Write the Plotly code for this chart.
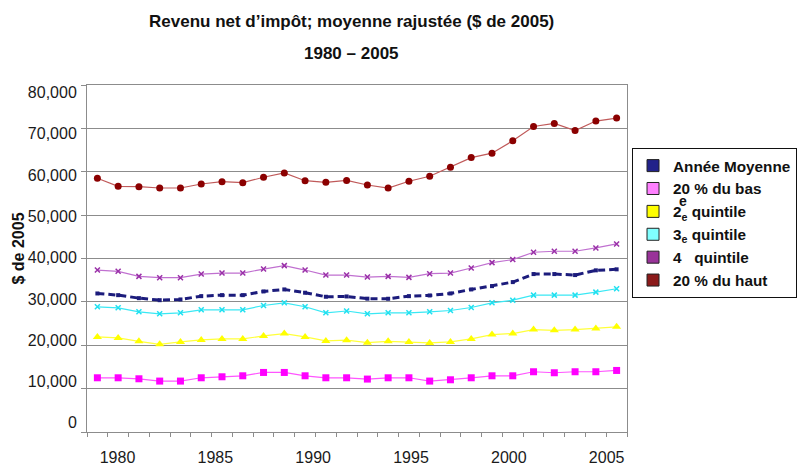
import plotly.graph_objects as go

years = list(range(1980, 2006))

moyenne = [31940, 31550, 30860, 30390, 30560, 31320, 31550, 31550, 32410, 32870, 32110, 31180, 31250,
           30740, 30720, 31320, 31480, 31940, 32870, 33630, 34560, 36410, 36410, 36180, 37270, 37500]
bas = [12500, 12500, 12270, 11740, 11740, 12500, 12730, 12960, 13730, 13730, 12960, 12500, 12500,
       12200, 12500, 12500, 11740, 12040, 12500, 12960, 12960, 13890, 13660, 13890, 13890, 14190]
q2 = [21920, 21690, 20900, 20210, 20760, 21230, 21460, 21460, 22150, 22690, 21920, 21000, 21180,
      20600, 20900, 20760, 20530, 20760, 21460, 22450, 22690, 23610, 23450, 23610, 23840, 24240]
q3 = [28870, 28630, 27710, 27250, 27480, 28170, 28170, 28170, 29170, 29790, 28870, 27480, 27900,
      27250, 27480, 27480, 27710, 28010, 28700, 29790, 30390, 31550, 31550, 31550, 32250, 33030]
q4 = [37340, 37040, 35880, 35580, 35580, 36410, 36640, 36640, 37570, 38360, 37340, 36180, 36180,
      35720, 35880, 35650, 36500, 36640, 37800, 39050, 39750, 41440, 41670, 41670, 42430, 43360]
haut = [58500, 56640, 56550, 56250, 56250, 57180, 57710, 57480, 58730, 59720, 57940, 57570, 57990,
        56940, 56250, 57800, 58960, 61040, 63260, 64280, 67130, 70440, 71130, 69510, 71690, 72380]

label_years = [1980, 1985, 1990, 1995, 2000, 2005]
y_ticks = [0, 10000, 20000, 30000, 40000, 50000, 60000, 70000, 80000]

series_names = ["Année Moyenne", "20 % du bas", "2<sub>e</sub> quintile", "3<sub>e</sub> quintile",
                "4\u00a0\u00a0 quintile", "20 % du haut"]
series_values = [moyenne, bas, q2, q3, q4, haut]

styles = [
    dict(line=dict(color="#1c1c7c", width=3, dash="7px,4px"),
         marker=dict(symbol="square", size=4, color="#1c1c7c"), swatch="#22228a"),
    dict(line=dict(color="#ff55ff", width=1.2),
         marker=dict(symbol="square", size=7, color="#ff00ff"), swatch="#ff80ff"),
    dict(line=dict(color="#ffff3a", width=1.2),
         marker=dict(symbol="triangle-up", size=8, color="#ffff00"), swatch="#ffff00"),
    dict(line=dict(color="#3ae8f4", width=1.2),
         marker=dict(symbol="x-thin", size=5, color="#20e0f0", line=dict(color="#20e0f0", width=1.5)),
         swatch="#80ffff"),
    dict(line=dict(color="#c070d0", width=1.2),
         marker=dict(symbol="x-thin", size=5, color="#9a30a8", line=dict(color="#9a30a8", width=1.5)),
         swatch="#993399"),
    dict(line=dict(color="#c05a5a", width=1.2),
         marker=dict(symbol="circle", size=7, color="#8b0000"), swatch="#8b1a1a"),
]

# The original chart's tick labels sit on their own (slightly offset) scales.
x_range = [1979.5, 2005.5]
x_label_range = [1978.44, 2006.04]
y_range = [0, 80000]
y_label_range = [-2230, 81820]


def remap(v, src, dst):
    return dst[0] + (v - src[0]) / (src[1] - src[0]) * (dst[1] - dst[0])


x_label_pos = [remap(v, x_label_range, x_range) for v in label_years]
y_label_pos = [remap(v, y_label_range, y_range) for v in y_ticks]

fig = go.Figure()
for i, (name, vals, st) in enumerate(zip(series_names, series_values, styles)):
    grp = f"g{i}"
    fig.add_trace(go.Scatter(x=years, y=vals, mode="lines+markers", name=name,
                             line=st["line"], marker=st["marker"],
                             legendgroup=grp, showlegend=False))
    fig.add_trace(go.Bar(x=[None], y=[None], name=name, legendgroup=grp,
                         marker=dict(color=st["swatch"], line=dict(color="#222222", width=1))))

font_family = "Liberation Sans, Arial, sans-serif"

fig.update_layout(
    width=812, height=465,
    margin=dict(l=87, r=185, t=85, b=33, autoexpand=False),
    paper_bgcolor="white", plot_bgcolor="white",
    font=dict(family=font_family, size=16, color="#1a1a1a"),
    showlegend=True,
    legend=dict(x=1.0093, y=0.818, xanchor="left", yanchor="top",
                bordercolor="#111111", borderwidth=1, bgcolor="white",
                font=dict(family=font_family, size=15.3, color="#111111", weight="bold"),
                traceorder="grouped", tracegroupgap=0),
    xaxis=dict(range=x_range, tickvals=x_label_pos, ticktext=[str(v) for v in label_years],
               ticks="", ticklabelstandoff=11, tickfont=dict(size=16, color="#1a1a1a"),
               minor=dict(tickvals=[x_range[0] + k for k in range(27)], ticks="outside",
                          ticklen=4, tickcolor="#8c8c8c", showgrid=False),
               showline=True, linecolor="#8c8c8c", mirror=True,
               showgrid=False, zeroline=False),
    yaxis=dict(range=y_range, tickvals=y_label_pos, ticktext=[f"{v:,}" for v in y_ticks],
               ticks="", ticklabelstandoff=6, tickfont=dict(size=16, color="#1a1a1a"),
               showgrid=False,
               minor=dict(tickvals=y_ticks, ticks="outside", ticklen=5, tickcolor="#8c8c8c",
                          showgrid=True, gridcolor="#8c8c8c", gridwidth=1.2),
               showline=True, linecolor="#8c8c8c", mirror=True, zeroline=False),
    annotations=[
        dict(text="<b>Revenu net d’impôt; moyenne rajustée ($ de 2005)</b>", xref="paper", yref="paper",
             x=0.4907, y=1.183, xanchor="center", yanchor="middle", showarrow=False,
             font=dict(size=17, color="#111111")),
        dict(text="<b>1980 – 2005</b>", xref="paper", yref="paper",
             x=0.4907, y=1.091, xanchor="center", yanchor="middle", showarrow=False,
             font=dict(size=17, color="#111111")),
        dict(text="<b>$ de 2005</b>", xref="paper", yref="paper", textangle=-90,
             x=-0.127, y=0.53, xanchor="center", yanchor="middle", showarrow=False,
             font=dict(size=16, color="#111111")),
        dict(text="<b>e</b>", xref="paper", yref="paper",
             x=1.1037, y=0.665, xanchor="center", yanchor="middle", showarrow=False,
             font=dict(size=14, color="#111111")),
    ],
)

fig.write_html("out.html", config={"displayModeBar": False},
               post_script="document.body.style.margin='0';")
